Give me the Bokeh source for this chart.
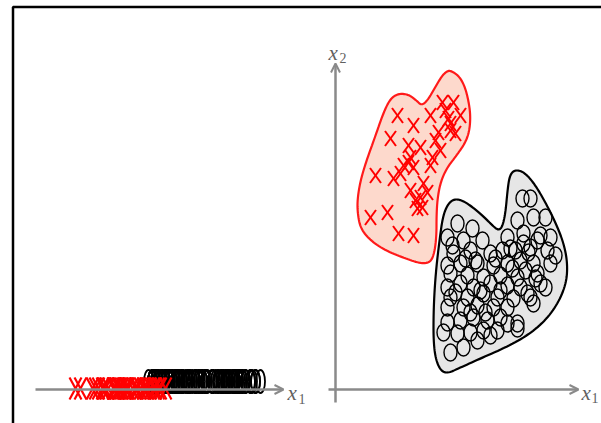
import numpy as np
from bokeh.plotting import figure
from bokeh.models import Range1d, Arrow, OpenHead
from bokeh.core.properties import value
from bokeh.embed import file_html
from bokeh.resources import INLINE

# ---- data (x1, x2 in chart units) ----
red_x1 = [6.2, 5.5, 7.8, 9.5, 10.7, 11.8, 12.5, 11.3, 11.5, 12.0, 10.3, 10.0, 8.5, 7.3,
          7.5, 6.8, 6.5, 7.8, 9.7, 9.5, 4.0, 5.8, 7.5, 8.8, 9.2, 8.0, 8.7, 5.2, 3.5,
          6.3, 7.8, 10.5, 11.5, 11.0, 7.3, 8.5, 8.2]
red_x2 = [27.4, 25.1, 26.4, 27.4, 28.7, 28.7, 27.4, 27.1, 25.9, 25.6, 25.7, 24.9, 24.2, 24.4,
          23.2, 22.4, 21.6, 22.2, 23.2, 22.4, 21.4, 21.1, 19.9, 20.6, 19.7, 18.9, 18.2, 17.7, 17.2,
          15.6, 15.4, 23.9, 26.6, 27.9, 22.7, 19.2, 18.1]

black_x1 = [18.7, 19.5, 12.2, 13.7, 18.2, 19.8, 21.0,
            11.2, 12.8, 14.7, 17.2, 18.8, 20.5, 21.5,
            11.8, 13.5, 15.5, 16.7, 18.0, 19.5, 21.2, 22.0,
            11.2, 12.5, 14.2, 15.8, 17.2, 18.5, 19.8, 21.5,
            11.5, 13.2, 14.8, 16.5, 18.2, 20.2,
            11.2, 12.5, 13.8, 15.5, 17.2, 18.5, 20.5, 21.0,
            11.5, 13.2, 14.8, 16.2, 17.8, 19.2, 20.0,
            11.2, 12.8, 14.2, 15.8, 17.2, 19.8,
            11.2, 12.5, 13.8, 15.2, 16.5, 18.2, 17.2,
            10.8, 12.2, 13.5, 14.8, 16.2,
            11.5, 12.8, 14.2, 15.5, 18.2, 19.5,
            11.7, 14.0, 17.5, 18.8, 20.2, 12.0, 13.5, 15.0, 16.5, 17.7, 19.0, 16.0, 14.5, 13.0, 19.3]
black_x2 = [19.1, 19.1, 16.6, 16.1, 16.9, 17.2, 17.2,
            15.2, 14.9, 14.9, 15.2, 15.6, 15.4, 15.2,
            13.6, 13.9, 13.6, 13.9, 13.9, 14.2, 13.9, 13.4,
            12.4, 12.6, 12.6, 12.4, 12.6, 12.9, 12.6, 12.6,
            11.6, 11.4, 11.2, 11.4, 11.2, 11.6,
            10.2, 10.6, 10.2, 10.6, 10.4, 10.2, 10.6, 10.2,
            9.2, 9.2, 9.6, 9.2, 9.1, 9.6, 11.1,
            8.2, 8.2, 8.4, 8.2, 8.2, 8.6,
            6.7, 6.9, 7.2, 6.9, 7.2, 6.6, 6.6,
            5.7, 5.6, 5.7, 5.9, 5.9,
            3.7, 4.2, 4.9, 5.4, 6.1, 9.2,
            14.4, 12.9, 14.1, 14.6, 14.9, 9.7, 7.7, 7.7, 9.9, 12.1, 11.9, 13.1, 9.9, 13.1, 13.7]

red_region_x1 = [11.5, 12.3, 12.9, 13.3, 13.5, 13.4, 13.0, 12.1, 11.1, 10.5, 10.2, 10.1, 10.1, 9.9,
                 9.5, 8.5, 7.0, 5.0, 3.5, 2.5, 2.2, 2.2, 2.5, 3.1, 3.9, 4.8, 5.5, 6.3, 7.3, 8.1,
                 8.6, 9.2, 9.9, 10.6, 11.1]
red_region_x2 = [31.9, 31.4, 30.4, 28.9, 27.4, 25.9, 24.7, 23.4, 22.1, 20.7, 19.1, 17.4, 15.4, 13.7,
                 12.7, 12.6, 13.1, 13.9, 14.9, 16.1, 17.7, 19.1, 20.9, 22.9, 25.1, 27.7, 29.1, 29.6,
                 29.5, 28.9, 28.4, 28.9, 30.1, 31.3, 31.8]
black_region_x1 = [17.8, 18.5, 19.2, 20.0, 21.0, 22.0, 22.8, 23.2, 23.1, 22.3, 21.0, 19.2, 17.0,
                   14.5, 12.5, 11.2, 10.5, 10.0, 9.8, 9.8, 9.9, 10.1, 10.4, 10.7, 11.1, 11.7, 12.5,
                   13.5, 14.7, 15.7, 16.3, 16.7, 17.0, 17.2, 17.4]
black_region_x2 = [21.9, 21.9, 21.4, 20.4, 18.7, 16.7, 14.7, 12.7, 10.7, 8.7, 6.9, 5.4, 4.2,
                   3.1, 2.2, 1.6, 1.9, 3.1, 4.9, 7.4, 9.9, 12.4, 14.9, 17.1, 18.3, 19.0, 19.0,
                   18.4, 17.4, 16.4, 15.9, 16.3, 17.7, 19.9, 21.3]

axis_labels = ["x", "1", "x", "1", "x", "2"]

# ---- layout helpers ----
SHIFT = 29.5      # left panel: projection onto x1, shifted left
LEFT_BLACK_Y = 0.8
LEFT_RED_Y = 0.1

X0, X1 = -33.5, 26.6
Y0, Y1 = -3.4, 38.9


def chaikin(xs, ys, n=3):
    pts = np.column_stack([xs, ys]).astype(float)
    for _ in range(n):
        nxt = np.roll(pts, -1, axis=0)
        q = 0.75 * pts + 0.25 * nxt
        r = 0.25 * pts + 0.75 * nxt
        pts = np.empty((2 * len(q), 2))
        pts[0::2] = q
        pts[1::2] = r
    return list(pts[:, 0]), list(pts[:, 1])


p = figure(width=601, height=423, x_range=Range1d(X0, X1), y_range=Range1d(Y0, Y1),
           output_backend="svg", toolbar_location=None, min_border=0,
           x_axis_location=None, y_axis_location=None)
p.grid.visible = False
p.outline_line_color = None
p.background_fill_color = "white"
p.border_fill_color = "white"

GRAY = "#8a8a8a"

# frame lines (left & top)
p.line([-32.25, -32.25, X1], [Y0, 38.25, 38.25], line_color="black", line_width=2.5)

# regions
rx, ry = chaikin(red_region_x1, red_region_x2)
bx, by = chaikin(black_region_x1, black_region_x2)
p.patch(bx, by, fill_color="#e6e6e6", line_color="black", line_width=2.2)
p.patch(rx, ry, fill_color="#fdd9cc", line_color="#ff1a1a", line_width=2.2)

# axes (right panel)
p.add_layout(Arrow(end=OpenHead(size=9, line_color=GRAY, line_width=2),
                   x_start=-0.7, y_start=0, x_end=24.3, y_end=0,
                   line_color=GRAY, line_width=2.5))
p.add_layout(Arrow(end=OpenHead(size=9, line_color=GRAY, line_width=2),
                   x_start=0, y_start=-1.3, x_end=0, y_end=32.6,
                   line_color=GRAY, line_width=2.5))
# axis (left panel)
p.add_layout(Arrow(end=OpenHead(size=9, line_color=GRAY, line_width=2),
                   x_start=-30.0, y_start=0, x_end=-5.2, y_end=0,
                   line_color=GRAY, line_width=2.5))

# right panel points
bx1 = np.array(black_x1)
bx2 = np.array(black_x2)
p.ellipse(x=bx1, y=bx2, width=13, height=17, width_units="screen", height_units="screen",
          fill_color=None, line_color="black", line_width=1.4)
rx1 = np.array(red_x1)
rx2 = np.array(red_x2)
dx, dy = 0.55, 0.75
p.segment(x0=rx1 - dx, y0=rx2 - dy, x1=rx1 + dx, y1=rx2 + dy, line_color="red", line_width=2)
p.segment(x0=rx1 - dx, y0=rx2 + dy, x1=rx1 + dx, y1=rx2 - dy, line_color="red", line_width=2)

# left panel: projection on x1
p.ellipse(x=bx1 - SHIFT, y=np.full(len(bx1), LEFT_BLACK_Y), width=9, height=23,
          width_units="screen", height_units="screen",
          fill_color=None, line_color="black", line_width=1.8)
lx = rx1 - SHIFT
ly = np.full(len(lx), LEFT_RED_Y)
ldx, ldy = 0.6, 1.1
p.segment(x0=lx - ldx, y0=ly - ldy, x1=lx + ldx, y1=ly + ldy, line_color="red", line_width=2.2)
p.segment(x0=lx - ldx, y0=ly + ldy, x1=lx + ldx, y1=ly - ldy, line_color="red", line_width=2.2)

# axis labels
LBL = "#606060"
p.text(x=[-4.8, 24.6, -0.7], y=[-0.3, -0.3, 33.7], text=[axis_labels[0], axis_labels[2], axis_labels[4]],
       text_font=value("Liberation Serif"), text_font_style="italic", text_font_size="21px",
       text_color=LBL, text_baseline="alphabetic", text_align="left")
p.text(x=[-3.7, 25.6, 0.4], y=[-0.9, -0.8, 33.2], text=[axis_labels[1], axis_labels[3], axis_labels[5]],
       text_font=value("Liberation Serif"), text_font_size="14px",
       text_color=LBL, text_baseline="alphabetic", text_align="left")

open("out.html", "w").write(file_html(p, INLINE))
